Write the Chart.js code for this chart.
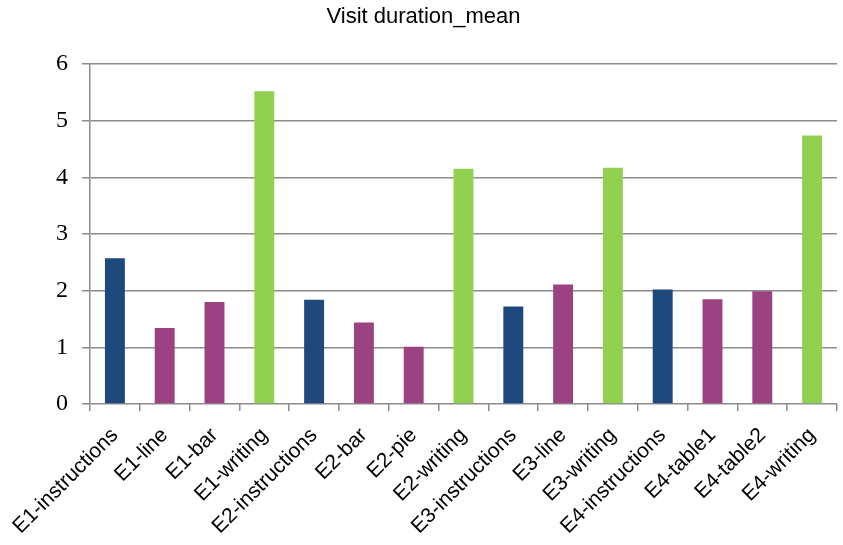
<!DOCTYPE html>
<html>
<head>
<meta charset="utf-8">
<script src="https://cdn.jsdelivr.net/npm/chart.js@4.4.1/dist/chart.umd.min.js"></script>
<style>
  html, body { margin: 0; padding: 0; background: #fff; }
  #wrap { width: 843px; height: 545px; }
</style>
</head>
<body>
<div id="wrap"><canvas id="chart"></canvas></div>
<script>
const categories = [
  'E1-instructions', 'E1-line', 'E1-bar', 'E1-writing',
  'E2-instructions', 'E2-bar', 'E2-pie', 'E2-writing',
  'E3-instructions', 'E3-line', 'E3-writing',
  'E4-instructions', 'E4-table1', 'E4-table2', 'E4-writing'
];
const durationMean = [2.57, 1.34, 1.80, 5.52, 1.84, 1.44, 1.01, 4.15, 1.72, 2.11, 4.17, 2.02, 1.85, 1.99, 4.74];
const yTicks = [0, 1, 2, 3, 4, 5, 6];

const NAVY = '#1f497d';
const PURPLE = '#9b4282';
const GREEN = '#92d050';

// instructions = navy, writing = green, the rest purple
const barColors = categories.map(c => {
  if (c.endsWith('instructions')) return NAVY;
  if (c.endsWith('writing')) return GREEN;
  return PURPLE;
});

const ctx = document.getElementById('chart').getContext('2d');
new Chart(ctx, {
  type: 'bar',
  data: {
    labels: categories,
    datasets: [{
      label: 'Visit duration_mean',
      data: durationMean,
      backgroundColor: barColors,
      borderWidth: 0,
      categoryPercentage: 1,
      barPercentage: 0.4
    }]
  },
  options: {
    responsive: true,
    maintainAspectRatio: false,
    animation: false,
    layout: { padding: { left: 10, right: 6, top: 0, bottom: 0 } },
    plugins: {
      legend: { display: false },
      tooltip: { enabled: false },
      title: {
        display: true,
        text: 'Visit duration_mean',
        color: '#000',
        font: { family: 'Liberation Sans', size: 22, weight: 'normal' },
        padding: { top: 4, bottom: 33.6 }
      }
    },
    scales: {
      x: {
        grid: { drawOnChartArea: false, drawTicks: true, tickLength: 7, color: '#8c8c8c', lineWidth: 1.5, offset: true },
        border: { display: false },
        ticks: {
          color: '#000',
          font: { family: 'Liberation Sans', size: 21 },
          minRotation: 45,
          maxRotation: 45,
          autoSkip: false,
          padding: 12
        },
        afterFit: (scale) => { scale.height = 141; }
      },
      y: {
        min: 0,
        max: 6,
        afterBuildTicks: (scale) => { scale.ticks = yTicks.map(v => ({ value: v })); },
        grid: { color: '#8c8c8c', lineWidth: 1.5, tickLength: 8 },
        border: { display: true, color: '#8c8c8c', width: 1.5 },
        ticks: {
          color: '#000',
          font: { family: 'Liberation Serif', size: 24 },
          padding: 14
        },
        afterFit: (scale) => { scale.width = 80; }
      }
    }
  }
});
</script>
</body>
</html>
